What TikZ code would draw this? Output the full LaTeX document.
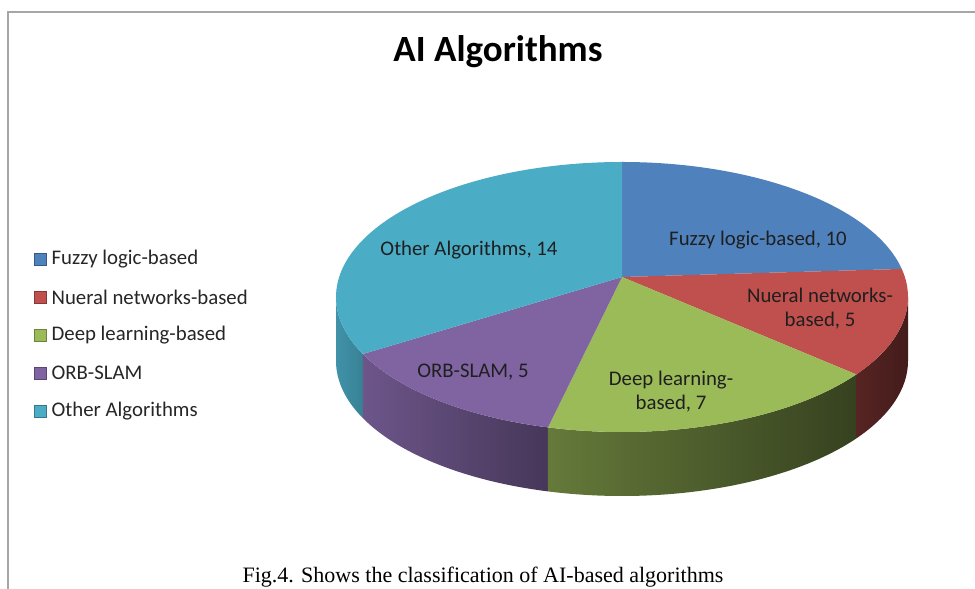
\documentclass[tikz,border=0pt]{standalone}
\usepackage{fontspec}
\setmainfont{Carlito}
\newfontfamily\capfont{Liberation Serif}
\usetikzlibrary{positioning}
\definecolor{fuzzyblue}{HTML}{4F81BD}
\definecolor{neuralred}{HTML}{C0504D}
\definecolor{deepgreen}{HTML}{9BBB59}
\definecolor{orbpurple}{HTML}{8064A2}
\definecolor{othercyan}{HTML}{4BACC6}
\definecolor{framegray}{HTML}{A6A6A6}
\definecolor{labeltext}{HTML}{1F1F1F}

\begin{document}
\begin{tikzpicture}[
    x=1pt, y=1pt,
    every node/.style={inner sep=1pt},
    sliceLabel/.style={font=\fontsize{20.8}{24}\selectfont, text=labeltext, align=center},
    legLabel/.style={font=\fontsize{20.8}{24}\selectfont, text=black!85, anchor=west},
    legKey/.style={minimum size=12pt, inner sep=0pt, line width=0.8pt},
]
\useasboundingbox (0,0) rectangle (975,589);
\clip (0,0) rectangle (975,589);
\fill[white] (0,0) rectangle (975,589);

% ── Chart frame ─────────────────────────────────────────────────
\draw[framegray, line width=1.5pt] (8,0) -- (8,577) -- (975,577);

% ── Title ───────────────────────────────────────────────────────
\node[font=\fontsize{37}{42}\selectfont\bfseries] (title) at (498,537) {AI Algorithms};

% ── Pie sides ───────────────────────────────────────────────────
\begin{scope}[shift={(622,292)}]
  \shade[left color=othercyan!85!black, right color=othercyan!75!black]
    (-180:286 and 135) arc[start angle=-180, end angle=-155, x radius=286, y radius=135]
    -- ++(0,-64) arc[start angle=-155, end angle=-180, x radius=286, y radius=135] -- cycle;
  \shade[left color=orbpurple!85!black, right color=orbpurple!55!black]
    (-155:286 and 135) arc[start angle=-155, end angle=-105, x radius=286, y radius=135]
    -- ++(0,-64) arc[start angle=-105, end angle=-155, x radius=286, y radius=135] -- cycle;
  \shade[left color=deepgreen!65!black, right color=deepgreen!35!black]
    (-105:286 and 135) arc[start angle=-105, end angle=-35, x radius=286, y radius=135]
    -- ++(0,-64) arc[start angle=-35, end angle=-105, x radius=286, y radius=135] -- cycle;
  \shade[left color=neuralred!45!black, right color=neuralred!35!black]
    (-35:286 and 135) arc[start angle=-35, end angle=0, x radius=286, y radius=135]
    -- ++(0,-64) arc[start angle=0, end angle=-35, x radius=286, y radius=135] -- cycle;

% ── Pie top ─────────────────────────────────────────────────────
  \coordinate (apex) at (0,20);
  \fill[fuzzyblue] (apex) -- (90:286 and 135)
    arc[start angle=90, end angle=12, x radius=286, y radius=135] -- cycle;
  \fill[neuralred] (apex) -- (12:286 and 135)
    arc[start angle=12, end angle=-35, x radius=286, y radius=135] -- cycle;
  \fill[deepgreen] (apex) -- (-35:286 and 135)
    arc[start angle=-35, end angle=-105, x radius=286, y radius=135] -- cycle;
  \fill[orbpurple] (apex) -- (-105:286 and 135)
    arc[start angle=-105, end angle=-155, x radius=286, y radius=135] -- cycle;
  \fill[othercyan] (apex) -- (-155:286 and 135)
    arc[start angle=-155, end angle=-270, x radius=286, y radius=135] -- cycle;
\end{scope}

% ── Slice labels ────────────────────────────────────────────────
\node[sliceLabel] (otherLbl) at (469,339) {Other Algorithms, 14};
\node[sliceLabel] (fuzzyLbl) at (758,349) {Fuzzy logic-based, 10};
\node[sliceLabel] (neuralLbl) at (820,280) {Nueral networks-\\based, 5};
\node[sliceLabel] (deepLbl) at (671,197) {Deep learning-\\based, 7};
\node[sliceLabel] (orbLbl) at (473,217) {ORB-SLAM, 5};

% ── Legend ──────────────────────────────────────────────────────
\foreach \i/\col/\txt in {0/fuzzyblue/Fuzzy logic-based, 1/neuralred/Nueral networks-based,
    2/deepgreen/Deep learning-based, 3/orbpurple/ORB-SLAM, 4/othercyan/Other Algorithms}{
  \node[legKey, fill=\col, draw=\col!70!black] (key\i) at (40,{330-38*\i}) {};
  \node[legLabel, right=4pt of key\i] (leg\i) {\txt};
}

% ── Caption ─────────────────────────────────────────────────────
\node[font=\capfont\fontsize{22}{26}\selectfont, anchor=base] (caption) at (483,6)
  {Fig.4. Shows the classification of AI-based algorithms};

\end{tikzpicture}
\end{document}
